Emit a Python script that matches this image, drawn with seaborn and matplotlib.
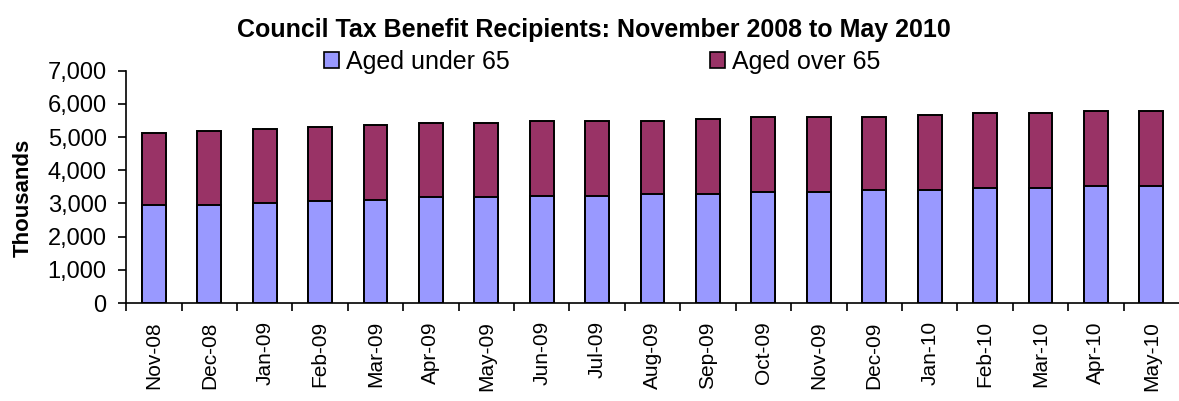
# Council Tax Benefit recipients, stacked bars by age group

import numpy as np
import pandas as pd
import matplotlib
matplotlib.use('Agg')
import matplotlib.pyplot as plt
from matplotlib.patches import Patch
from matplotlib.ticker import FuncFormatter
import seaborn as sns

# --- Data (thousands) ---
months = ['Nov-08', 'Dec-08', 'Jan-09', 'Feb-09', 'Mar-09', 'Apr-09', 'May-09',
          'Jun-09', 'Jul-09', 'Aug-09', 'Sep-09', 'Oct-09', 'Nov-09', 'Dec-09',
          'Jan-10', 'Feb-10', 'Mar-10', 'Apr-10', 'May-10']
aged_under_65 = [2950, 2950, 3000, 3060, 3100, 3190, 3190, 3240, 3240, 3300,
                 3300, 3350, 3350, 3420, 3420, 3480, 3480, 3540, 3540]
aged_over_65 = [2160, 2240, 2240, 2240, 2250, 2230, 2230, 2240, 2240, 2180,
                2240, 2240, 2240, 2170, 2230, 2240, 2240, 2230, 2230]

COL_UNDER = '#9999FF'
COL_OVER = '#993366'

df = pd.DataFrame({'month': months, 'under': aged_under_65, 'over': aged_over_65})
df['total'] = df['under'] + df['over']

sns.set_style('white')
plt.rcParams['font.family'] = ['Liberation Sans', 'DejaVu Sans']
for key in ['text.color', 'axes.labelcolor', 'xtick.color', 'ytick.color']:
    plt.rcParams[key] = 'black'

fig = plt.figure(figsize=(11.79, 4.01), dpi=100)
ax = fig.add_axes([0.107, 0.244, 0.893, 0.580])

# stacked: draw total (over 65 on top) then under 65 over it
sns.barplot(data=df, x='month', y='total', color=COL_OVER, width=0.43,
            edgecolor='black', linewidth=1.4, saturation=1, ax=ax)
sns.barplot(data=df, x='month', y='under', color=COL_UNDER, width=0.43,
            edgecolor='black', linewidth=1.4, saturation=1, ax=ax)

ax.set_ylim(0, 7000)
ax.set_xlim(-0.5, len(months) - 0.5)
ax.set_yticks(np.arange(0, 7001, 1000))
ax.yaxis.set_major_formatter(FuncFormatter(lambda v, p: f'{int(v):,}'))
ax.tick_params(axis='y', direction='out', length=6, width=1.2, labelsize=17,
               left=True, pad=8)

# category labels without marks, boundary marks as minor ticks
ax.set_xticks(np.arange(len(months)))
ax.set_xticklabels(months, rotation=90)
ax.tick_params(axis='x', which='major', length=0, labelsize=15, pad=13)
ax.set_xticks(np.arange(-0.5, len(months) - 1, 1), minor=True)
ax.tick_params(axis='x', which='minor', direction='out', length=6, width=1.2,
               bottom=True)

ax.set_xlabel('')
ax.set_ylabel('Thousands', fontsize=16, fontweight='bold')
ax.yaxis.set_label_coords(-0.088, 0.452)

for side in ['top', 'right']:
    ax.spines[side].set_visible(False)
for side in ['left', 'bottom']:
    ax.spines[side].set_color('black')
    ax.spines[side].set_linewidth(1.2)

fig.text(0.504, 0.925, 'Council Tax Benefit Recipients: November 2008 to May 2010',
         ha='center', va='center', fontsize=18, fontweight='bold')

handles = [Patch(facecolor=COL_UNDER, edgecolor='black', linewidth=1.2),
           Patch(facecolor=COL_OVER, edgecolor='black', linewidth=1.2)]
fig.legend(handles, ['Aged under 65', 'Aged over 65'], ncol=2,
           loc='center', bbox_to_anchor=(0.511, 0.845), frameon=False,
           fontsize=18, handlelength=0.6, handleheight=0.6,
           handletextpad=0.28, columnspacing=8.0)

fig.savefig('out.png', dpi=100)
